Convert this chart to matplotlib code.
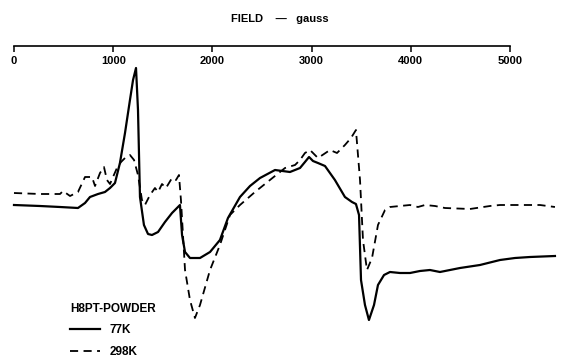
import matplotlib
matplotlib.use("Agg")
import matplotlib.pyplot as plt
from matplotlib import font_manager

# EPR spectrum of H8PT powder, field in gauss, signal in arbitrary units
field_77 = [0, 262, 464, 645, 716, 766, 847, 917, 968, 1018, 1068, 1119, 1169, 1200,
            1230, 1250, 1270, 1310, 1351, 1391, 1452, 1522, 1593, 1653, 1673, 1694,
            1724, 1774, 1875, 1976, 2076, 2157, 2278, 2379, 2480, 2631, 2782, 2883,
            2933, 2974, 3014, 3064, 3135, 3235, 3336, 3407, 3447, 3478, 3498, 3538,
            3578, 3629, 3669, 3730, 3790, 3891, 3992, 4092, 4193, 4294, 4395, 4496,
            4697, 4899, 5050, 5201, 5453]
signal_77 = [5, 4, 3, 2, 7, 13, 16, 18, 22, 27, 47, 77, 110, 130,
             142, 100, 13, -15, -24, -25, -22, -12, -3, 3, 5, -25,
             -42, -48, -48, -42, -30, -8, 13, 24, 32, 40, 38, 42,
             48, 53, 49, 47, 44, 30, 13, 8, 6, -5, -70, -95,
             -110, -95, -75, -65, -62, -63, -63, -61, -60, -62, -60, -58,
             -55, -50, -48, -47, -46]

field_298 = [0, 262, 464, 494, 565, 645, 716, 786, 817, 867, 907, 937, 968, 998,
             1038, 1079, 1119, 1169, 1210, 1250, 1290, 1320, 1371, 1421, 1452, 1492,
             1532, 1593, 1633, 1663, 1683, 1724, 1774, 1824, 1875, 1976, 2076, 2177,
             2278, 2429, 2580, 2732, 2833, 2883, 2933, 2984, 3064, 3125, 3185, 3256,
             3336, 3397, 3447, 3488, 3518, 3558, 3609, 3669, 3740, 3790, 3891, 3992,
             4072, 4143, 4244, 4344, 4596, 4798, 4899, 5100, 5302, 5453]
signal_298 = [17, 16, 16, 19, 14, 18, 33, 33, 24, 37, 43, 30, 26, 33,
              42, 48, 52, 55, 50, 35, 10, 5, 15, 22, 18, 26,
              22, 32, 30, 35, 10, -60, -90, -108, -95, -60, -35, -5,
              5, 18, 30, 42, 45, 50, 57, 60, 52, 56, 60, 57,
              65, 72, 80, 30, -30, -60, -48, -15, 0, 3, 4, 5,
              3, 5, 4, 2, 1, 4, 5, 5, 5, 3]

field_ticks = [0, 1000, 2000, 3000, 4000, 5000]

names = {f.name for f in font_manager.fontManager.ttflist}
fam = "Liberation Sans Narrow" if "Liberation Sans Narrow" in names else "Liberation Sans"
plt.rcParams["font.family"] = [fam, "DejaVu Sans"]

fig = plt.figure(figsize=(5.74, 3.58), dpi=100)
ax = fig.add_axes([0, 0, 1, 312 / 358])

ax.plot(field_77, signal_77, color="black", lw=1.6, label="77K")
ax.plot(field_298, signal_298, color="black", lw=1.3, ls=(0, (4.5, 3)), label="298K")

ax.set_xlim(-141, 5645)
ax.set_ylim(-148, 164)

# field axis drawn along the top, labels hanging below it
for s in ["top", "left", "right"]:
    ax.spines[s].set_visible(False)
ax.spines["bottom"].set_position(("axes", 1.0))
ax.spines["bottom"].set_bounds(0, 5000)
ax.spines["bottom"].set_linewidth(1.2)
ax.set_xticks(field_ticks)
ax.set_xticklabels([str(t) for t in field_ticks], fontweight="bold")
ax.tick_params(axis="x", direction="out", length=4, width=1.1, pad=3.5, labelsize=8)
ax.set_yticks([])

fig.text(280 / 574, 1 - 19 / 358, "FIELD    —   gauss", ha="center", va="center",
         fontsize=8, fontweight="bold")

leg = ax.legend(title="H8PT-POWDER", loc="upper left", frameon=False,
                bbox_to_anchor=(70 / 574, 1 - 303 / 358), bbox_transform=fig.transFigure,
                alignment="left", prop={"size": 8.5, "weight": "bold"},
                title_fontproperties={"size": 8.5, "weight": "bold"}, borderpad=0,
                borderaxespad=0, handlelength=2.5, handletextpad=0.85, labelspacing=0.8)

fig.savefig("out.png", dpi=100)
